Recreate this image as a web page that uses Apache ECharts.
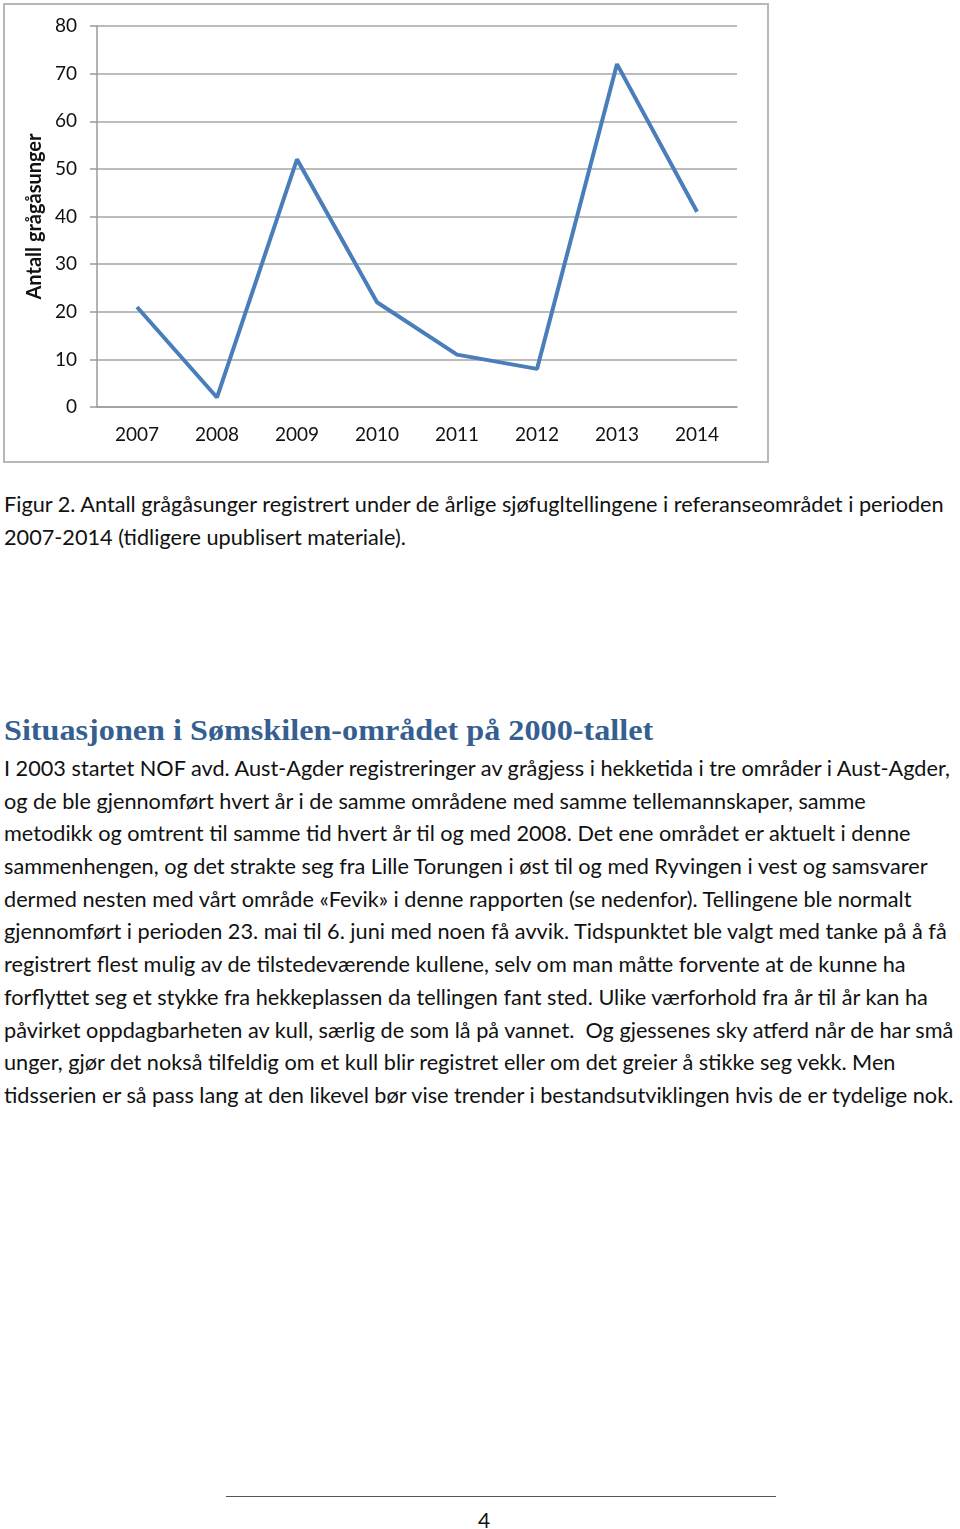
<!DOCTYPE html>
<html><head><meta charset="utf-8">
<script src="https://cdn.jsdelivr.net/npm/echarts@6/dist/echarts.min.js"></script>
<style>
html,body{margin:0;padding:0;background:#fff;width:960px;height:1529px;overflow:hidden;position:relative;font-family:Lato,"Open Sans",sans-serif;color:#111;}
#frame{position:absolute;left:3px;top:3px;width:762px;height:456px;border:2px solid #b8b8b8;}
#chart{position:absolute;left:0;top:0;width:960px;height:470px;}
.ln{position:absolute;left:4px;white-space:nowrap;font-size:21.7px;line-height:24px;}
#head{position:absolute;left:4px;top:713px;white-space:nowrap;font-family:"Liberation Serif",serif;font-weight:bold;font-size:30px;color:#365f91;transform:scaleX(1.073);transform-origin:0 0;}
#rule{position:absolute;left:226px;top:1496px;width:550px;height:0;border-top:1.5px solid #555;}
#pg{position:absolute;left:478px;top:1507px;font-size:21px;}
</style></head>
<body>
<div id="frame"></div>
<div id="chart"></div>
<div class="ln" style="top:492px">Figur 2. Antall grågåsunger registrert under de årlige sjøfugltellingene i referanseområdet i perioden</div>
<div class="ln" style="top:525px">2007-2014 (tidligere upublisert materiale).</div>
<div id="head">Situasjonen i Sømskilen-området på 2000-tallet</div>
<div class="ln" style="top:756px">I 2003 startet NOF avd. Aust-Agder registreringer av grågjess i hekketida i tre områder i Aust-Agder,</div>
<div class="ln" style="top:789px">og de ble gjennomført hvert år i de samme områdene med samme tellemannskaper, samme</div>
<div class="ln" style="top:821px">metodikk og omtrent til samme tid hvert år til og med 2008. Det ene området er aktuelt i denne</div>
<div class="ln" style="top:854px">sammenhengen, og det strakte seg fra Lille Torungen i øst til og med Ryvingen i vest og samsvarer</div>
<div class="ln" style="top:887px">dermed nesten med vårt område «Fevik» i denne rapporten (se nedenfor). Tellingene ble normalt</div>
<div class="ln" style="top:919px">gjennomført i perioden 23. mai til 6. juni med noen få avvik. Tidspunktet ble valgt med tanke på å få</div>
<div class="ln" style="top:952px">registrert flest mulig av de tilstedeværende kullene, selv om man måtte forvente at de kunne ha</div>
<div class="ln" style="top:985px">forflyttet seg et stykke fra hekkeplassen da tellingen fant sted. Ulike værforhold fra år til år kan ha</div>
<div class="ln" style="top:1018px">påvirket oppdagbarheten av kull, særlig de som lå på vannet.&nbsp; Og gjessenes sky atferd når de har små</div>
<div class="ln" style="top:1050px">unger, gjør det nokså tilfeldig om et kull blir registret eller om det greier å stikke seg vekk. Men</div>
<div class="ln" style="top:1083px">tidsserien er så pass lang at den likevel bør vise trender i bestandsutviklingen hvis de er tydelige nok.</div>
<div id="rule"></div>
<div id="pg">4</div>
<script>
var years = ['2007','2008','2009','2010','2011','2012','2013','2014'];
var chicks = [21, 2, 52, 22, 11, 8, 72, 41];
var yAxisTitle = 'Antall grågåsunger';

var chart = echarts.init(document.getElementById('chart'), null, {renderer:'canvas'});
chart.setOption({
  animation:false,
  backgroundColor:'transparent',
  grid:{left:97, top:26, width:640, height:381, containLabel:false},
  xAxis:{
    type:'category', data:years, boundaryGap:true,
    axisLine:{show:true, lineStyle:{color:'#9a9a9a', width:1.5}},
    axisTick:{show:false},
    axisLabel:{color:'#111', fontSize:19, fontFamily:'Lato', margin:18}
  },
  yAxis:{
    type:'value', min:0, max:80, interval:10,
    name:yAxisTitle, nameLocation:'middle', nameGap:48,
    nameTextStyle:{color:'#111', fontSize:20, fontWeight:'bold', fontFamily:'Lato'},
    axisLine:{show:true, lineStyle:{color:'#9a9a9a', width:1.5}},
    axisTick:{show:true, inside:false, length:7, lineStyle:{color:'#9a9a9a', width:1.5}},
    axisLabel:{color:'#111', fontSize:19, fontFamily:'Lato', margin:20},
    splitLine:{show:true, lineStyle:{color:'#a6a6a6', width:1.5}}
  },
  series:[{
    type:'line', data:chicks, symbol:'none',
    lineStyle:{color:'#4a7ebb', width:4}
  }]
});
</script>
</body></html>
